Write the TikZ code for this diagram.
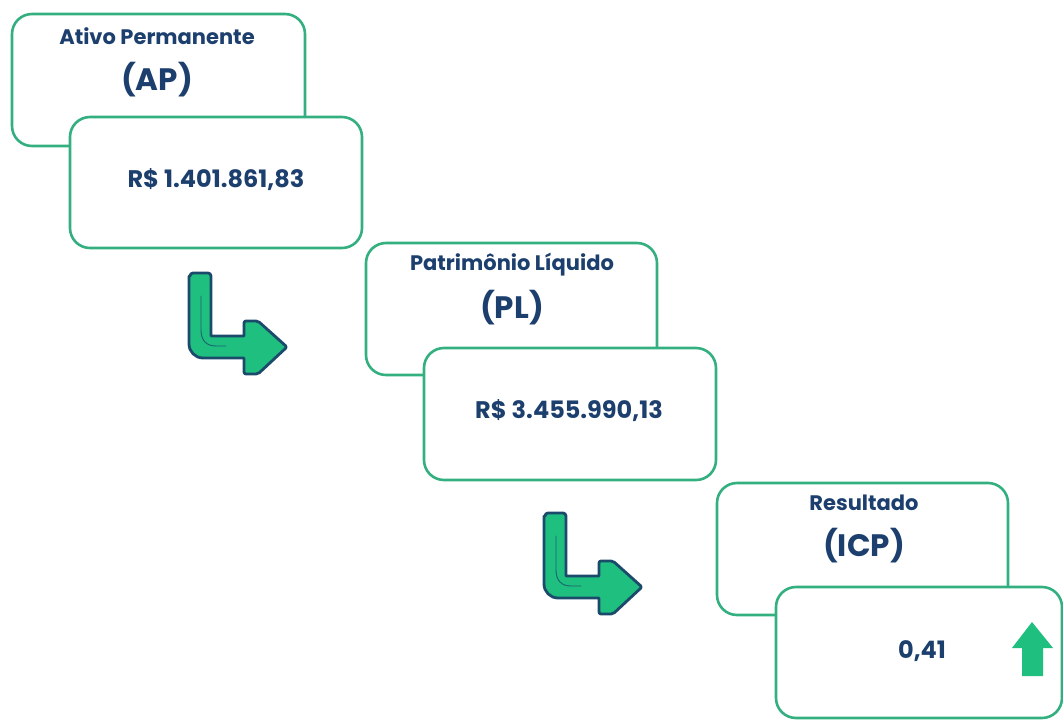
\documentclass[tikz,border=0pt]{standalone}
\usepackage{fontspec}
\setmainfont{Poppins}
\definecolor{navy}{HTML}{1C3F6E}
\definecolor{boxgreen}{HTML}{34B080}
\definecolor{arrfill}{HTML}{1FBF80}
\definecolor{arrline}{HTML}{1B4A6B}
\begin{document}
\begin{tikzpicture}[x=1pt,y=-1pt,
  card/.style={draw=boxgreen,line width=2.6pt,fill=white,rounded corners=20pt},
  title/.style={text=navy,font=\bfseries\fontsize{21}{24}\selectfont},
  abbr/.style={text=navy,font=\bfseries\fontsize{31}{34}\selectfont},
  value/.style={text=navy,font=\bfseries\fontsize{24}{28}\selectfont},
  bent/.style={fill=arrfill,draw=arrline,line width=2.8pt,line join=round},
  up/.style={fill=arrfill,draw=none}]
\useasboundingbox (0,0) rectangle (1063,720);
% box group 1
\draw[card] (12,14) rectangle (305,146);
\draw[card] (70,117) rectangle (362,248);
\node[title] (t1) at (157,36) {Ativo Permanente};
\node[abbr] (a1) at (157,80) {(AP)};
\node[value] (v1) at (216,180) {R\$ 1.401.861,83};
% box group 2
\draw[card] (366,243) rectangle (657,375);
\draw[card] (424,348) rectangle (716,480);
\node[title] (t2) at (512,265) {Patrimônio Líquido};
\node[abbr] (a2) at (512,308) {(PL)};
\node[value] (v2) at (569,411) {R\$ 3.455.990,13};
% box group 3
\draw[card] (717,483) rectangle (1008,615);
\draw[card] (776,587) rectangle (1062,718);
\node[title] (t3) at (864,503) {Resultado};
\node[abbr] (a3) at (864,546) {(ICP)};
\node[value] (v3) at (922,651) {0,41};
% up arrow
\fill[arrfill] (1032,622) -- (1053,648) -- (1043,648) -- (1043,676) -- (1022,676) -- (1022,648) -- (1012,648) -- cycle;
% bent arrows
\foreach \dx/\dy in {0/0, 355/240} {
  \begin{scope}[shift={(\dx,\dy)}]
    \draw[bent] (190,276) [rounded corners=3pt] -- (190,273) -- (211,273) [sharp corners] -- (211,336) -- (244,336)
      [rounded corners=2pt] -- (244,321) -- (258,321) -- (287,347) -- (258,374) -- (244,374) [sharp corners] -- (244,358)
      [rounded corners=14pt] -- (189,358) -- (189,290) [sharp corners] -- (189,276) -- cycle;
    \draw[arrline,line width=0.9pt,line cap=round,opacity=0.8] (201,296) -- (201,330) .. controls (201,340) and (206,346) .. (216,346) -- (226,346);
  \end{scope}
}
\end{tikzpicture}
\end{document}
